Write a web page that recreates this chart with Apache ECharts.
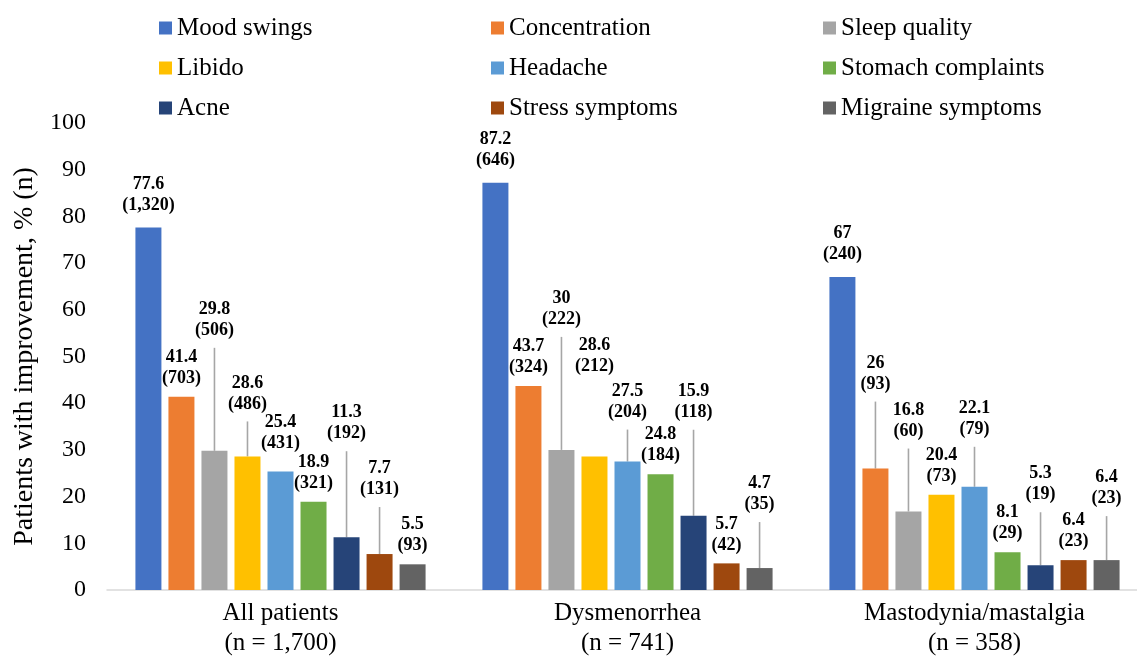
<!DOCTYPE html>
<html><head><meta charset="utf-8">
<script src="https://cdn.jsdelivr.net/npm/echarts@6/dist/echarts.min.js"></script>
<style>html,body{margin:0;padding:0;background:#fff}#c{width:1137px;height:664px}</style>
</head><body><div id="c"></div>
<script>
// ---- data ----
const categories = ['All patients', 'Dysmenorrhea', 'Mastodynia/mastalgia'];
const groupN = ['1,700', '741', '358'];
const seriesNames = ['Mood swings','Concentration','Sleep quality','Libido','Headache','Stomach complaints','Acne','Stress symptoms','Migraine symptoms'];
const moodSwings   = [77.6, 87.2, 67];
const concentration= [41.4, 43.7, 26];
const sleepQuality = [29.8, 30, 16.8];
const libido       = [28.6, 28.6, 20.4];
const headache     = [25.4, 27.5, 22.1];
const stomach      = [18.9, 24.8, 8.1];
const acne         = [11.3, 15.9, 5.3];
const stress       = [7.7, 5.7, 6.4];
const migraine     = [5.5, 4.7, 6.4];
const moodN   = ['1,320','646','240'];
const concN   = ['703','324','93'];
const sleepN  = ['506','222','60'];
const libidoN = ['486','212','73'];
const headN   = ['431','204','79'];
const stomN   = ['321','184','29'];
const acneN   = ['192','118','19'];
const stressN = ['131','42','23'];
const migrN   = ['93','35','23'];
const yTicks = [0,10,20,30,40,50,60,70,80,90,100];

// ---- layout (label lift in px, leader line flags) ----
const labelRaise = [[4,4,4],[0,0,66],[102,112,62],[34,72,0],[10,31,39],[0,0,0],[85,85,52],[46,0,0],[0,45,43]];
const leader     = [[0,0,0],[0,0,1],[1,1,1],[1,0,0],[0,1,1],[0,0,0],[1,1,1],[1,0,0],[0,1,1]];
const colors = ['#4472C4','#ED7D31','#A5A5A5','#FFC000','#5B9BD5','#70AD47','#264478','#9E480E','#636363'];

const values = [moodSwings, concentration, sleepQuality, libido, headache, stomach, acne, stress, migraine];
const counts = [moodN, concN, sleepN, libidoN, headN, stomN, acneN, stressN, migrN];

const BAR_W = 26, BAR_GAP = 0.27, BASE_DIST = 8;
const serif = '"Liberation Serif","Times New Roman",serif';

const barSeries = values.map((vals, si) => ({
  name: seriesNames[si],
  type: 'bar',
  barWidth: BAR_W,
  barGap: (BAR_GAP*100) + '%',
  itemStyle: { color: colors[si] },
  data: vals.map((v, ci) => ({
    value: v,
    label: {
      show: true, position: 'top', distance: BASE_DIST + labelRaise[si][ci],
      formatter: () => v + '\n(' + counts[si][ci] + ')',
      fontFamily: serif, fontWeight: 'bold', fontSize: 18, lineHeight: 21, color: '#000'
    }
  }))
}));

const leaderData = [];
values.forEach((vals, si) => vals.forEach((v, ci) => {
  if (leader[si][ci]) leaderData.push([ci, si, v, labelRaise[si][ci]]);
}));

const leaderSeries = {
  type: 'custom', silent: true, z: 1,
  renderItem: (params, api) => {
    const ci = api.value(0), si = api.value(1), v = api.value(2), r = api.value(3);
    const p = api.coord([ci, v]);
    const step = BAR_W * (1 + BAR_GAP);
    const x = p[0] + (si - 4) * step;
    const y0 = p[1];
    const y1 = y0 - BASE_DIST - r + 7;
    return { type: 'line', shape: { x1: x, y1: y0, x2: x, y2: y1 },
      style: { stroke: '#A6A6A6', lineWidth: 1.6 } };
  },
  data: leaderData
};

const legendCols = [[0,3,6],[1,4,7],[2,5,8]];
const legendLefts = [154, 486, 818];
const legends = legendCols.map((col, k) => ({
  orient: 'vertical', left: legendLefts[k], top: 10,
  itemWidth: 13, itemHeight: 13, itemGap: 14, icon: 'rect',
  data: col.map(i => seriesNames[i]),
  textStyle: { fontFamily: serif, fontSize: 25, lineHeight: 26, color: '#000' }
}));

const chart = echarts.init(document.getElementById('c'));
chart.setOption({
  animation: false,
  backgroundColor: '#fff',
  legend: legends,
  grid: { left: 107, top: 123, bottom: 74, width: 1041, outerBoundsMode: 'none', containLabel: false },
  xAxis: {
    type: 'category',
    data: categories.map((c, i) => c + '\n(n = ' + groupN[i] + ')'),
    axisLine: { lineStyle: { color: '#D9D9D9', width: 1.5 } },
    axisTick: { show: false },
    axisLabel: { fontFamily: serif, fontSize: 25, lineHeight: 30, color: '#000', margin: 8 }
  },
  yAxis: {
    type: 'value', min: 0, max: 100, interval: 10,
    name: 'Patients with improvement, % (n)', nameLocation: 'middle', nameGap: 68,
    nameTextStyle: { fontFamily: serif, fontSize: 28, color: '#000' },
    axisLine: { show: false }, axisTick: { show: false }, splitLine: { show: false },
    axisLabel: { fontFamily: serif, fontSize: 24, color: '#000', margin: 21,
      formatter: v => yTicks.includes(v) ? String(v) : '' }
  },
  series: barSeries.concat([leaderSeries])
});
</script>
</body></html>
